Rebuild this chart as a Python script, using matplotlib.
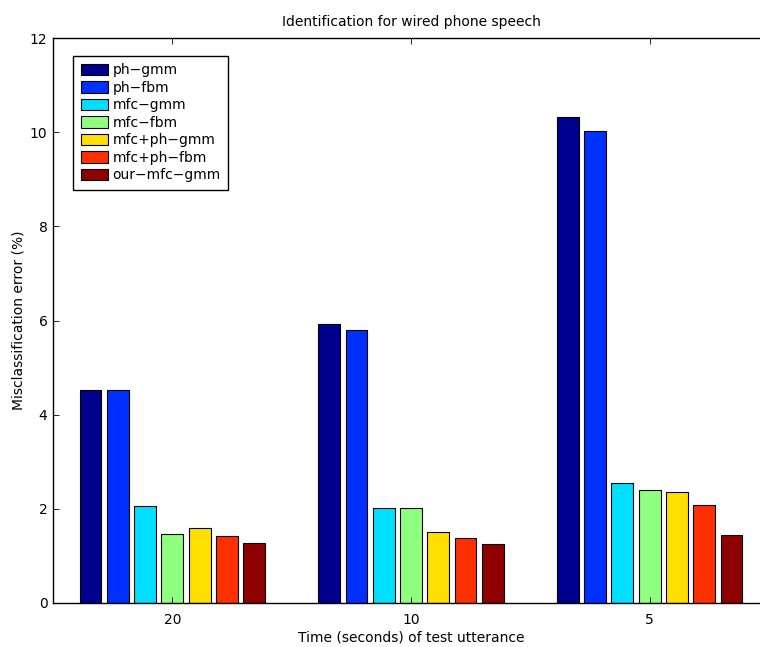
import numpy as np
import matplotlib
matplotlib.use("Agg")
import matplotlib.pyplot as plt

categories = ["20", "10", "5"]
series_names = ["ph\u2212gmm", "ph\u2212fbm", "mfc\u2212gmm", "mfc\u2212fbm",
                "mfc+ph\u2212gmm", "mfc+ph\u2212fbm", "our\u2212mfc\u2212gmm"]
ph_gmm = [4.53, 5.92, 10.33]
ph_fbm = [4.53, 5.79, 10.03]
mfc_gmm = [2.05, 2.01, 2.55]
mfc_fbm = [1.46, 2.01, 2.41]
mfc_ph_gmm = [1.60, 1.50, 2.35]
mfc_ph_fbm = [1.43, 1.38, 2.09]
our_mfc_gmm = [1.27, 1.26, 1.45]
series = [ph_gmm, ph_fbm, mfc_gmm, mfc_fbm, mfc_ph_gmm, mfc_ph_fbm, our_mfc_gmm]
colors = ["#00008F", "#0030FF", "#00DFFF", "#8FFF80", "#FFDF00", "#FF3000", "#8F0000"]
yticks = [0, 2, 4, 6, 8, 10, 12]

plt.rcParams['font.family'] = ['DejaVu Sans']
plt.rcParams['font.size'] = 10

W, H = 760, 647
fig = plt.figure(figsize=(W / 100, H / 100), dpi=100)
left, right, top, bottom = 53, 769, 38, 603
ax = fig.add_axes([left / W, (H - bottom) / H, (right - left) / W, (bottom - top) / H])

n = len(series)
x = np.arange(1, len(categories) + 1)
group_w = 0.8
pitch = group_w / n
bw = pitch * 0.8
for i, (vals, c, name) in enumerate(zip(series, colors, series_names)):
    offs = -group_w / 2 + pitch * (i + 0.5)
    ax.bar(x + offs, vals, width=bw, color=c, edgecolor='black', linewidth=0.8, label=name)

ax.set_xlim(0.5, 3.5)
ax.set_ylim(0, 12)
ax.set_xticks(x)
ax.set_xticklabels(categories)
ax.set_yticks(yticks)
ax.set_yticklabels([str(t) for t in yticks])
ax.tick_params(direction='in', length=4.5, width=0.6, top=True, right=True,
               labelsize=10)
ax.tick_params(axis='x', pad=7)
ax.tick_params(axis='y', pad=4)
for s in ax.spines.values():
    s.set_linewidth(1.0)

ax.set_title("Identification for wired phone speech", fontsize=10, pad=8.5)
ax.set_xlabel("Time (seconds) of test utterance", fontsize=10, labelpad=3)
ax.set_ylabel("Misclassification error (%)", fontsize=10, labelpad=3)

leg = ax.legend(loc='upper left', bbox_to_anchor=(20.3 / 716, 1 - 17.7 / 565),
                borderaxespad=0, fancybox=False, framealpha=1, edgecolor='black',
                handlelength=1.92, handleheight=0.88, handletextpad=0.35,
                labelspacing=0.25, borderpad=0.55, fontsize=10)
leg.get_frame().set_linewidth(1.0)

fig.savefig("out.png", dpi=100)
